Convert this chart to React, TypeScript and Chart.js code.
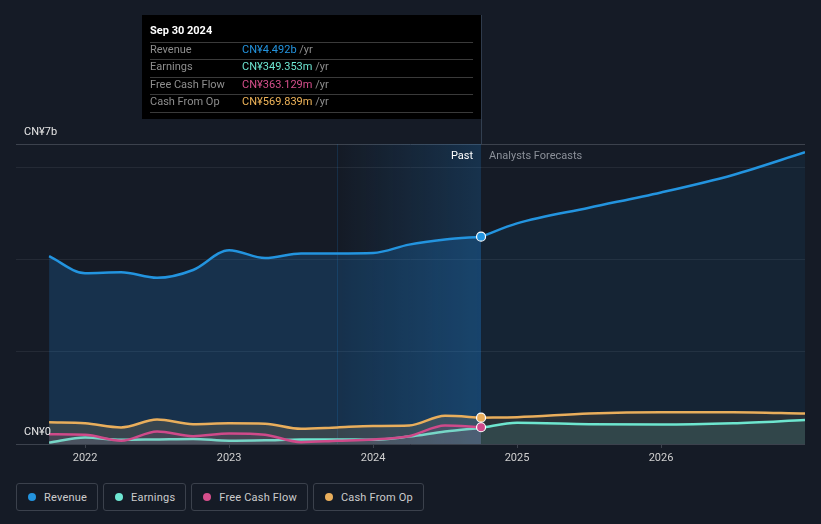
import React, { useEffect, useRef } from "react";
import { Chart, registerables } from "chart.js";

Chart.register(...registerables);

// ---- data (values in CN¥ billions, x in decimal years) ----
const pastX = [2021.75, 2022.0, 2022.25, 2022.5, 2022.75, 2023.0, 2023.25, 2023.5, 2023.75, 2024.0, 2024.25, 2024.5, 2024.75];
const revenuePast = [4.07, 3.7, 3.72, 3.6, 3.77, 4.2, 4.03, 4.13, 4.13, 4.14, 4.32, 4.43, 4.492];
const earningsPast = [0.03, 0.14, 0.09, 0.1, 0.11, 0.07, 0.08, 0.1, 0.1, 0.09, 0.16, 0.27, 0.349];
const fcfPast = [0.21, 0.2, 0.07, 0.27, 0.17, 0.23, 0.2, 0.04, 0.07, 0.1, 0.17, 0.4, 0.363];
const cfoPast = [0.47, 0.45, 0.36, 0.53, 0.43, 0.45, 0.44, 0.33, 0.36, 0.39, 0.4, 0.61, 0.57];

const forecastX = [2024.75, 2025.0, 2025.5, 2026.0, 2026.5, 2027.0];
const revenueFc = [4.492, 4.78, 5.12, 5.45, 5.83, 6.32];
const earningsFc = [0.349, 0.46, 0.43, 0.42, 0.45, 0.52];
const cfoFc = [0.57, 0.58, 0.66, 0.69, 0.69, 0.66];

const yearTicks = [2022, 2023, 2024, 2025, 2026];
const xMin = 2021.52;
const xMax = 2027.0;
const yMax = 6.5;
const yGrid = [0, 2, 4, 6, 6.5];
const highlightFrom = 2023.75;
const nowX = 2024.75;

const tooltipTitle = "Sep 30 2024";
const tooltipRows = [
  { label: "Revenue", value: "CN¥4.492b", color: "#2394df" },
  { label: "Earnings", value: "CN¥349.353m", color: "#6ee6d2" },
  { label: "Free Cash Flow", value: "CN¥363.129m", color: "#d64f8c" },
  { label: "Cash From Op", value: "CN¥569.839m", color: "#f0b55a" },
];
const legendItems = [
  { label: "Revenue", color: "#2394df" },
  { label: "Earnings", color: "#6ee6d2" },
  { label: "Free Cash Flow", color: "#d64f8c" },
  { label: "Cash From Op", color: "#e9ae5c" },
];

const BLUE = "#2394df";
const TEAL = "#6ee6cf";
const PINK = "#cf4a8a";
const ORANGE = "#e9ae5c";
const FONT = "Roboto, 'Open Sans', sans-serif";

const pts = (xs: number[], ys: number[]) => xs.map((x, i) => ({ x, y: ys[i] }));

const overlay = {
  id: "overlay",
  beforeDatasetsDraw(chart: any) {
    const { ctx, chartArea, scales } = chart;
    const x0 = scales.x.getPixelForValue(highlightFrom);
    const x1 = scales.x.getPixelForValue(nowX);
    ctx.save();
    const g = ctx.createLinearGradient(x0, 0, x1, 0);
    g.addColorStop(0, "rgba(33,150,243,0.0)");
    g.addColorStop(1, "rgba(33,150,243,0.19)");
    ctx.fillStyle = g;
    ctx.fillRect(x0, chartArea.top, x1 - x0, chartArea.bottom - chartArea.top);
    ctx.strokeStyle = "rgba(33,150,243,0.16)";
    ctx.lineWidth = 1;
    ctx.beginPath();
    ctx.moveTo(Math.round(x0) + 0.5, chartArea.top);
    ctx.lineTo(Math.round(x0) + 0.5, chartArea.bottom);
    ctx.stroke();
    ctx.restore();
  },
  afterDatasetsDraw(chart: any) {
    const { ctx, chartArea, scales } = chart;
    const xn = scales.x.getPixelForValue(nowX);
    ctx.save();
    // vertical "now" line above the plot
    ctx.strokeStyle = "rgba(120,150,180,0.3)";
    ctx.lineWidth = 1;
    ctx.beginPath();
    ctx.moveTo(Math.round(xn) + 0.5, 15);
    ctx.lineTo(Math.round(xn) + 0.5, chartArea.top);
    ctx.stroke();

    // y labels
    ctx.font = `11px ${FONT}`;
    ctx.fillStyle = "#e6e6e6";
    ctx.textBaseline = "middle";
    ctx.textAlign = "left";
    ctx.fillText("CN¥7b", 24, scales.y.getPixelForValue(yMax) - 12);
    ctx.fillText("CN¥0", 24, scales.y.getPixelForValue(0) - 12);

    // Past / Forecast
    const ly = scales.y.getPixelForValue(yMax) + 12;
    ctx.textAlign = "right";
    ctx.fillStyle = "#ffffff";
    ctx.fillText("Past", xn - 8, ly);
    ctx.textAlign = "left";
    ctx.fillStyle = "#8b9099";
    ctx.fillText("Analysts Forecasts", xn + 8, ly);

    // tooltip box
    const bx = 142, by = 15, bw = xn - 142, bh = 104;
    ctx.fillStyle = "#000000";
    ctx.fillRect(bx, by, bw, bh);
    ctx.fillStyle = "#ffffff";
    ctx.font = `bold 11px ${FONT}`;
    ctx.fillText(tooltipTitle, 150, 31);
    ctx.font = `11px ${FONT}`;
    tooltipRows.forEach((r, i) => {
      const yLine = 41.5 + i * 17.5;
      ctx.strokeStyle = "#3a3a3a";
      ctx.beginPath();
      ctx.moveTo(150, Math.round(yLine) + 0.5);
      ctx.lineTo(bx + bw - 8, Math.round(yLine) + 0.5);
      ctx.stroke();
      const ty = yLine + 8.5;
      ctx.fillStyle = "#8e8e8e";
      ctx.fillText(r.label, 150, ty);
      ctx.fillStyle = r.color;
      ctx.fillText(r.value, 242, ty);
      const w = ctx.measureText(r.value).width;
      ctx.fillStyle = "#8e8e8e";
      ctx.fillText(" /yr", 242 + w, ty);
    });
    const yLast = 41.5 + 4 * 17.5;
    ctx.strokeStyle = "#3a3a3a";
    ctx.beginPath();
    ctx.moveTo(150, Math.round(yLast) + 0.5);
    ctx.lineTo(bx + bw - 8, Math.round(yLast) + 0.5);
    ctx.stroke();
    ctx.restore();
  },
};

export default function App() {
  const ref = useRef<HTMLCanvasElement | null>(null);

  useEffect(() => {
    document.body.style.margin = "0";
    document.body.style.background = "#151b26";
    const lastR = (n: number) => (c: any) => (c.dataIndex === n - 1 ? 4.5 : 0);
    const base = { fill: "origin", borderWidth: 2.5, cubicInterpolationMode: "monotone", pointRadius: 0 };
    // Chart.js draws dataset 0 last (on top): list from top-most to bottom-most
    const chart = new Chart(ref.current as HTMLCanvasElement, {
      type: "line",
      data: {
        datasets: [
          {
            label: "Cash From Op point",
            data: [{ x: nowX, y: cfoPast[cfoPast.length - 1] }],
            showLine: false,
            fill: false,
            pointRadius: 4.5,
            pointBackgroundColor: ORANGE,
            pointBorderColor: "#ffffff",
            pointBorderWidth: 1.2,
          },
          {
            label: "Revenue point",
            data: [{ x: nowX, y: revenuePast[revenuePast.length - 1] }],
            showLine: false,
            fill: false,
            pointRadius: 4.5,
            pointBackgroundColor: BLUE,
            pointBorderColor: "#ffffff",
            pointBorderWidth: 1.2,
          },
          {
            ...base,
            label: "Free Cash Flow",
            data: pts(pastX, fcfPast),
            borderColor: PINK,
            backgroundColor: "rgba(207,74,138,0.1)",
            pointRadius: lastR(pastX.length),
            pointBackgroundColor: PINK,
            pointBorderColor: "#ffffff",
            pointBorderWidth: 1.2,
          },
          {
            ...base,
            label: "Earnings",
            data: pts(pastX, earningsPast),
            borderColor: TEAL,
            backgroundColor: "rgba(110,230,207,0.1)",
          },
          {
            ...base,
            label: "Earnings forecast",
            data: pts(forecastX, earningsFc),
            borderColor: TEAL,
            backgroundColor: "rgba(110,230,207,0.12)",
          },
          {
            ...base,
            label: "Cash From Op",
            data: pts(pastX, cfoPast),
            borderColor: ORANGE,
            backgroundColor: "rgba(233,174,92,0.16)",
          },
          {
            ...base,
            label: "Cash From Op forecast",
            data: pts(forecastX, cfoFc),
            borderColor: ORANGE,
            backgroundColor: "rgba(233,174,92,0.1)",
          },
          {
            ...base,
            label: "Revenue forecast",
            data: pts(forecastX, revenueFc),
            borderColor: BLUE,
            backgroundColor: "rgba(33,150,243,0.07)",
          },
          {
            ...base,
            label: "Revenue",
            data: pts(pastX, revenuePast),
            borderColor: BLUE,
            backgroundColor: "rgba(33,150,243,0.19)",
          },
        ],
      },
      options: {
        animation: false,
        responsive: false,
        maintainAspectRatio: false,
        layout: { padding: { left: 16, right: 16, top: 144, bottom: 0 } },
        plugins: { legend: { display: false }, tooltip: { enabled: false } },
        scales: {
          x: {
            type: "linear",
            min: xMin,
            max: xMax,
            afterBuildTicks: (s: any) => {
              s.ticks = yearTicks.map((v) => ({ value: v }));
            },
            afterFit: (s: any) => {
              s.height = 26;
            },
            border: { display: false },
            grid: {
              drawOnChartArea: false,
              drawTicks: true,
              tickLength: 4,
              color: "#3c424d",
            },
            ticks: {
              color: "#d0d0d0",
              font: { family: FONT, size: 11 },
              padding: 4,
              maxRotation: 0,
              callback: (v: any) => String(v),
            },
          },
          y: {
            min: 0,
            max: yMax,
            afterBuildTicks: (s: any) => {
              s.ticks = yGrid.map((v) => ({ value: v }));
            },
            border: { display: false },
            grid: {
              drawTicks: false,
              color: (c: any) =>
                c.tick && (c.tick.value === 0 || c.tick.value === yMax) ? "#3c424d" : "#242a35",
            },
            ticks: { display: false },
          },
        },
      },
      plugins: [overlay],
    } as any);
    return () => chart.destroy();
  }, []);

  return (
    <div style={{ position: "relative", width: 821, height: 524, background: "#151b26", fontFamily: FONT }}>
      <canvas ref={ref} width={821} height={470} style={{ display: "block", width: 821, height: 470 }} />
      <div style={{ position: "absolute", left: 16, top: 483, display: "flex", gap: 5 }}>
        {legendItems.map((it) => (
          <div
            key={it.label}
            style={{
              height: 26,
              border: "1px solid #3b414c",
              borderRadius: 3,
              display: "flex",
              alignItems: "center",
              padding: "0 10px 0 11px",
              color: "#cccccc",
              fontSize: 11,
              letterSpacing: 0.2,
            }}
          >
            <span style={{ width: 8, height: 8, borderRadius: "50%", background: it.color, marginRight: 8, display: "inline-block" }} />
            {it.label}
          </div>
        ))}
      </div>
    </div>
  );
}
